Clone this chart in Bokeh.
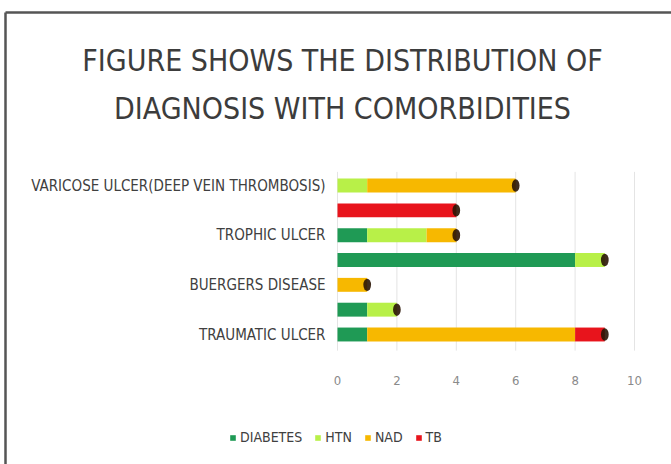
from bokeh.plotting import figure
from bokeh.models import (Range1d, Legend, LegendItem, ColumnDataSource, FixedTicker)
from bokeh.core.properties import value
from bokeh.embed import file_html
from bokeh.resources import INLINE

# ---- data ----
categories = ["TRAUMATIC ULCER", "ARTERIAL ULCER", "BUERGERS DISEASE", "DIABETIC ULCER",
              "TROPHIC ULCER", "TUBERCULAR ULCER", "VARICOSE ULCER(DEEP VEIN THROMBOSIS)"]
shown_labels = ["TRAUMATIC ULCER", "BUERGERS DISEASE", "TROPHIC ULCER",
                "VARICOSE ULCER(DEEP VEIN THROMBOSIS)"]
series = ["DIABETES", "HTN", "NAD", "TB"]
diabetes = [1, 1, 0, 8, 1, 0, 0]
htn = [0, 1, 0, 1, 2, 0, 1]
nad = [7, 0, 1, 0, 1, 0, 5]
tb = [1, 0, 0, 0, 0, 4, 0]
x_ticks = [0, 2, 4, 6, 8, 10]
title_lines = ["FIGURE SHOWS THE DISTRIBUTION OF", "DIAGNOSIS WITH COMORBIDITIES"]

colors = ["#1f9a55", "#b8f048", "#f7b800", "#e8141c"]
FONT = "DejaVu Sans Condensed"
W, H = 671, 464

# layout geometry (pixels -> plot units): value 0 at px 337, 29.7 px per unit;
# first category centred at px 334, 24.83 px per category
X0, XS = 337.0, 29.7
Y0, YS = 334.0, 24.83
def px2x(px):
    return (px - X0) / XS
def px2y(py):
    return (Y0 - py) / YS

ypos = list(range(len(categories)))
data = {"y": ypos, "DIABETES": diabetes, "HTN": htn, "NAD": nad, "TB": tb}
data["total"] = [sum(v) for v in zip(diabetes, htn, nad, tb)]
src = ColumnDataSource(data)

p = figure(width=W, height=H, output_backend="svg", toolbar_location=None,
           x_range=Range1d(px2x(0), px2x(W)), y_range=Range1d(px2y(H), px2y(0)),
           min_border=0)
p.outline_line_color = None
p.grid.visible = False

# vertical grid lines at the x ticks, over the bar area only
p.segment(x0=x_ticks, x1=x_ticks, y0=[-0.65] * len(x_ticks), y1=[6.55] * len(x_ticks),
          line_color="#e4e4e4", line_width=1)

renderers = p.hbar_stack(series, y="y", height=0.56, color=colors, source=src,
                         line_color=None)
# cylinder end caps
p.ellipse(x="total", y="y", width=0.26, height=0.5, source=src,
          fill_color="#2a1505", line_color=None, fill_alpha=0.9)

# x axis drawn inside the canvas just under the bars
p.xaxis.fixed_location = -1.0
p.xaxis.ticker = FixedTicker(ticks=x_ticks)
p.xaxis.axis_line_color = None
p.xaxis.major_tick_line_color = None
p.xaxis.minor_tick_line_color = None
p.xaxis.major_label_text_color = "#8a8a8a"
p.xaxis.major_label_text_font = FONT
p.xaxis.major_label_text_font_size = "13px"
p.xaxis.major_label_standoff = 11

# y axis at value 0, every other category labelled
p.yaxis.fixed_location = 0
p.yaxis.ticker = FixedTicker(ticks=[ypos[categories.index(c)] for c in shown_labels])
overrides = {}
for c in shown_labels:
    i = categories.index(c)
    overrides[i] = c
    overrides[str(i)] = c
p.yaxis.major_label_overrides = overrides
p.yaxis.axis_line_color = None
p.yaxis.major_tick_line_color = None
p.yaxis.minor_tick_line_color = None
p.yaxis.major_label_text_color = "#404040"
p.yaxis.major_label_text_font = FONT
p.yaxis.major_label_text_font_size = "15px"
p.yaxis.major_label_standoff = 6

# title
p.text(x=[px2x(342)] * 2, y=[px2y(60), px2y(108)], text=title_lines,
       text_font=value(FONT), text_font_size="30px", text_color="#3c3c3c",
       text_align="center", text_baseline="middle")

# frame border (left and top edges)
p.segment(x0=[px2x(5), px2x(5)], y0=[px2y(12), px2y(12)],
          x1=[px2x(5), px2x(W)], y1=[px2y(H), px2y(12)],
          line_color="#555555", line_width=2.5)

items = [LegendItem(label=s, renderers=[r]) for s, r in zip(series, renderers)]
legend = Legend(items=items, orientation="horizontal", location=(229, 19),
                label_text_font=FONT, label_text_font_size="14px",
                label_text_color="#404040", glyph_width=7, glyph_height=7,
                spacing=12, label_standoff=4, border_line_color=None,
                background_fill_alpha=0, padding=0, margin=0)
p.add_layout(legend, "center")

open("out.html", "w").write(file_html(p, INLINE))
